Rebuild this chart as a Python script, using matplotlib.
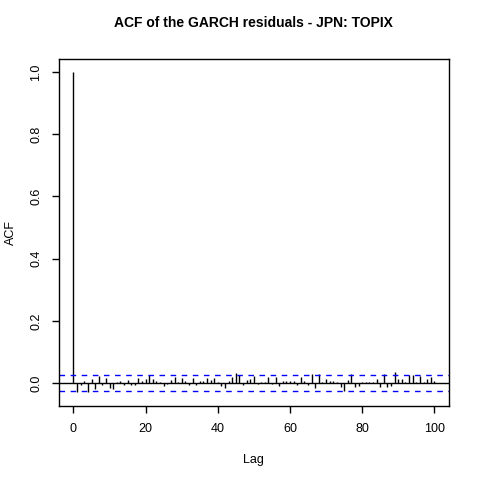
import numpy as np
import matplotlib.pyplot as plt

plt.rcParams['font.family'] = ['Liberation Sans', 'DejaVu Sans']

lags = np.arange(0, 101)
acf_vals = [
    1.0, -0.028, -0.007, 0.007, -0.030, 0.012, -0.020, 0.023, -0.007, 0.015,
    -0.015, -0.020, 0.005, 0.007, -0.007, 0.010, -0.005, -0.006, 0.017, 0.008,
    0.012, 0.027, 0.012, 0.007, 0.003, -0.011, -0.004, 0.011, 0.019, 0.004,
    0.017, 0.007, -0.005, 0.017, -0.007, 0.007, 0.007, 0.017, 0.011, 0.017,
    0.002, -0.010, -0.015, 0.007, 0.021, 0.033, 0.025, -0.007, 0.010, 0.012,
    0.022, -0.004, 0.003, 0.005, 0.018, -0.004, 0.019, -0.010, 0.007, 0.007,
    0.007, 0.007, -0.005, 0.020, 0.007, -0.006, 0.030, -0.016, 0.030, 0.004,
    0.014, 0.007, 0.007, 0.003, -0.014, -0.026, 0.011, 0.030, -0.014, -0.010,
    0.005, 0.005, 0.005, 0.005, 0.014, -0.014, 0.030, -0.014, -0.010, 0.035,
    0.012, 0.014, 0.003, 0.025, 0.027, 0.003, 0.022, 0.002, 0.014, 0.018,
    0.007,
]
conf_limit = 0.0258

fig = plt.figure(figsize=(4.8, 4.8), dpi=100)
ax = fig.add_axes([0.123, 0.154, 0.812, 0.723])

ax.vlines(lags, 0, acf_vals, color='black', linewidth=1)
ax.axhline(0, color='black', linewidth=1)
ax.axhline(conf_limit, color='blue', linewidth=1, linestyle=(0, (4, 4)))
ax.axhline(-conf_limit, color='blue', linewidth=1, linestyle=(0, (4, 4)))

ax.set_xlim(-4, 104)
ax.set_ylim(-0.074, 1.042)
ax.set_xticks([0, 20, 40, 60, 80, 100])
ax.set_yticks([0.0, 0.2, 0.4, 0.6, 0.8, 1.0])
ax.set_yticklabels(['0.0', '0.2', '0.4', '0.6', '0.8', '1.0'], rotation=90, va='center')
ax.tick_params(direction='out', length=5, width=1, labelsize=9, pad=7)
for s in ax.spines.values():
    s.set_linewidth(1)

ax.set_xlabel('Lag', fontsize=9, labelpad=14)
ax.set_ylabel('ACF', fontsize=9, labelpad=10)
ax.set_title('ACF of the GARCH residuals - JPN: TOPIX', fontsize=10, fontweight='bold', pad=23)

fig.savefig('out.png', dpi=100)
